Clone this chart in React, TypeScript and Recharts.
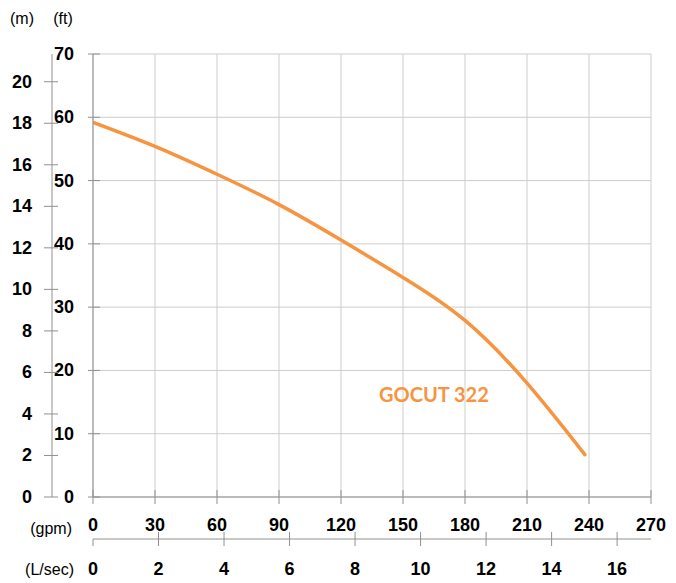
import React from 'react';
import { LineChart, Line, XAxis, YAxis, CartesianGrid } from 'recharts';

const flowGpm = [0, 30, 60, 90, 120, 150, 180, 210, 238];
const headFt = [59.2, 55.4, 51.0, 46.2, 40.6, 34.7, 27.9, 18.0, 6.7];
const gpmTicks = [0, 30, 60, 90, 120, 150, 180, 210, 240, 270];
const lpsTicks = [0, 2, 4, 6, 8, 10, 12, 14, 16];
const ftTicks = [0, 10, 20, 30, 40, 50, 60, 70];
const mTicks = [0, 2, 4, 6, 8, 10, 12, 14, 16, 18, 20];
const seriesName = 'GOCUT 322';

const GPM_PER_LPS = 15.8503;
const FT_PER_M = 3.28084;

const data = flowGpm.map((g, i) => ({
  gpm: g,
  ft: headFt[i],
  lps: g / GPM_PER_LPS,
  m: headFt[i] / FT_PER_M,
}));

const AXIS = '#909090';
const GRID = '#cdcdcd';
const ORANGE = '#F7943F';
const FONT = '"Liberation Sans", Arial, sans-serif';

const BottomTick = (off: number, down: boolean) => (props: any) => {
  const { x, y, payload } = props;
  return (
    <g>
      <line x1={x} x2={x} y1={down && payload.value === 0 ? y : y - 7} y2={y + 7} stroke={AXIS} strokeWidth={1} />
      <text x={x} y={y + off} textAnchor="middle" dominantBaseline="central" fontFamily={FONT} fontWeight="bold" fontSize={18} fill="#000">
        {payload.value}
      </text>
    </g>
  );
};

const LeftTick = (l: number, r: number, off: number) => (props: any) => {
  const { x, y, payload } = props;
  return (
    <g>
      <line x1={x - l} x2={x + r} y1={y} y2={y} stroke={AXIS} strokeWidth={1} />
      <text x={x - off} y={y} textAnchor="end" dominantBaseline="central" fontFamily={FONT} fontWeight="bold" fontSize={18} fill="#000">
        {payload.value}
      </text>
    </g>
  );
};

export default function App() {
  return (
    <div style={{ position: 'absolute', left: 0, top: 0 }}>
      <LineChart width={676} height={583} data={data} margin={{ top: 54, right: 25, bottom: 4, left: 0 }}>
        <CartesianGrid xAxisId="gpm" yAxisId="ft" stroke={GRID} strokeWidth={1} />
        <XAxis
          xAxisId="gpm"
          dataKey="gpm"
          type="number"
          domain={[0, 270]}
          ticks={gpmTicks}
          allowDataOverflow
          height={42}
          tickSize={0}
          tickMargin={0}
          tickLine={false}
          axisLine={{ stroke: AXIS }}
          tick={BottomTick(28, false)}
          interval={0}
        />
        <XAxis
          xAxisId="lps"
          dataKey="lps"
          type="number"
          domain={[0, 270 / GPM_PER_LPS]}
          ticks={lpsTicks}
          allowDataOverflow
          height={40}
          tickSize={0}
          tickMargin={0}
          tickLine={false}
          axisLine={{ stroke: AXIS }}
          tick={BottomTick(30, true)}
          interval={0}
        />
        <YAxis
          yAxisId="ft"
          type="number"
          domain={[0, 70]}
          ticks={ftTicks}
          allowDataOverflow
          width={41}
          tickSize={0}
          tickMargin={0}
          tickLine={false}
          axisLine={{ stroke: AXIS }}
          tick={LeftTick(5, 7, 19)}
          interval={0}
        />
        <YAxis
          yAxisId="m"
          type="number"
          domain={[0, 70 / FT_PER_M]}
          ticks={mTicks}
          allowDataOverflow
          width={52}
          tickSize={0}
          tickMargin={0}
          tickLine={false}
          axisLine={{ stroke: AXIS }}
          tick={LeftTick(8, 6, 20)}
          interval={0}
        />
        <Line
          xAxisId="lps"
          yAxisId="m"
          type="monotone"
          dataKey="m"
          stroke="none"
          strokeWidth={0}
          dot={false}
          activeDot={false}
          legendType="none"
          isAnimationActive={false}
        />
        <Line
          xAxisId="gpm"
          yAxisId="ft"
          type="natural"
          dataKey="ft"
          stroke={ORANGE}
          strokeWidth={3.5}
          strokeLinecap="round"
          dot={false}
          isAnimationActive={false}
        />
        <text x={22} y={18} textAnchor="middle" dominantBaseline="central" fontFamily={FONT} fontSize={16} fill="#000">(m)</text>
        <text x={63} y={18} textAnchor="middle" dominantBaseline="central" fontFamily={FONT} fontSize={16} fill="#000">(ft)</text>
        <text x={72} y={528} textAnchor="end" dominantBaseline="central" fontFamily={FONT} fontSize={16} fill="#000">(gpm)</text>
        <text x={74} y={569} textAnchor="end" dominantBaseline="central" fontFamily={FONT} fontSize={16} fill="#000">(L/sec)</text>
        <text x={379} y={402} fontFamily="Lato, 'Open Sans', sans-serif" fontWeight="bold" fontSize={20} fill={ORANGE}>{seriesName}</text>
      </LineChart>
    </div>
  );
}
